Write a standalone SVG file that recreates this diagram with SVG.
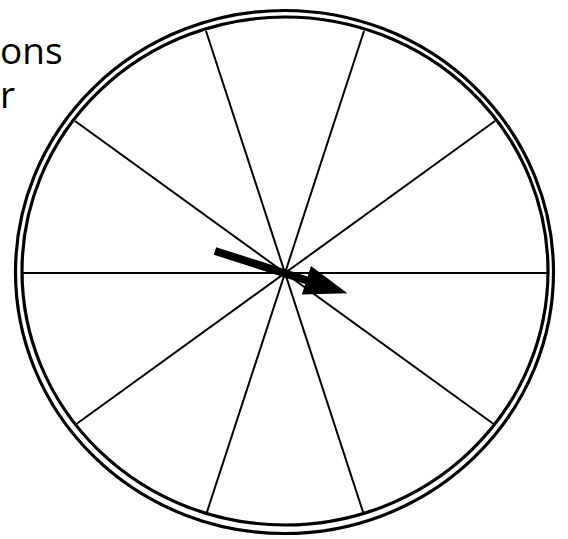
<svg xmlns="http://www.w3.org/2000/svg" width="568" height="539" viewBox="0 0 568 539">
<style>
.rim{fill:none;stroke:#000;stroke-width:3.2}
.spoke{stroke:#000;stroke-width:2;fill:none}
.lbl{font-family:"Open Sans","Noto Sans",sans-serif;font-size:37px;fill:#000}
</style>
<rect width="568" height="539" fill="#fff"/>
<g id="label">
<text class="lbl" x="0" y="64">ons</text>
<text class="lbl" x="0" y="108">r</text>
</g>
<g id="wheel">
<ellipse class="rim" cx="284.5" cy="272" rx="269" ry="261.5"/>
<ellipse class="rim" cx="285" cy="271" rx="263" ry="254"/>
</g>
<g id="spokes">
<line class="spoke" x1="22" y1="273" x2="548" y2="273"/>
<line class="spoke" x1="75" y1="121" x2="495" y2="425"/>
<line class="spoke" x1="495" y1="121" x2="75" y2="425"/>
<line class="spoke" x1="206" y1="31" x2="364" y2="515"/>
<line class="spoke" x1="364" y1="31" x2="206" y2="515"/>
</g>
<g id="pointer" transform="translate(215,251) rotate(17.7)">
<polygon points="0,-4 96,-4 96,-15 139,0 96,15 96,4 0,4" fill="#000"/>
</g>
</svg>
